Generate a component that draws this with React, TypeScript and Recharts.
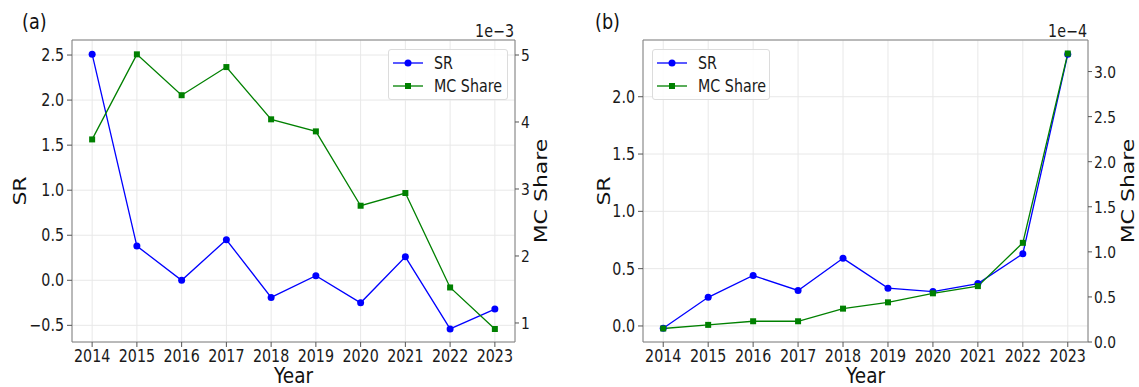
import React from "react"
import { CartesianGrid, Label, Line, LineChart, ReferenceLine, XAxis, YAxis } from "recharts"

// values
const years = [2014, 2015, 2016, 2017, 2018, 2019, 2020, 2021, 2022, 2023]

const srA = [2.51, 0.38, 0.0, 0.45, -0.19, 0.05, -0.25, 0.26, -0.54, -0.32]
const mcShareA = [3.74e-3, 5.01e-3, 4.4e-3, 4.82e-3, 4.04e-3, 3.86e-3, 2.75e-3, 2.94e-3, 1.53e-3, 0.91e-3]

const srB = [-0.02, 0.25, 0.44, 0.31, 0.59, 0.33, 0.3, 0.37, 0.63, 2.37]
const mcShareB = [0.15e-4, 0.19e-4, 0.23e-4, 0.23e-4, 0.37e-4, 0.44e-4, 0.54e-4, 0.62e-4, 1.1e-4, 3.2e-4]

const srTicksA = [-0.5, 0, 0.5, 1, 1.5, 2, 2.5]
const mcTicksA = [1e-3, 2e-3, 3e-3, 4e-3, 5e-3]
const srTicksB = [0, 0.5, 1, 1.5, 2]
const mcTicksB = [0, 0.5e-4, 1e-4, 1.5e-4, 2e-4, 2.5e-4, 3e-4]

const FONT = "'DejaVu Sans', sans-serif"
const BLUE = "#0000ff"
const GREEN = "#008000"
const FRAME = "#808080"
const INK = "#1a1a1a"
// the reference figure is squeezed sideways, so text is drawn narrower than tall
const SQ = 0.84

const minus = (s: string) => s.replace("-", "\u2212")

const SquareDot = (props: any) => {
  const { cx, cy, index } = props
  if (cx == null || cy == null) return <g key={index} />
  return <rect key={index} x={cx - 3} y={cy - 3} width={6} height={6} fill={GREEN} />
}

function makeTick(fmt: (v: number) => string, anchor: "start" | "middle" | "end", dy: string, size = 17) {
  return (props: any) => {
    const { x, y, payload } = props
    return (
      <text
        transform={`translate(${x},${y}) scale(${SQ},1)`}
        textAnchor={anchor}
        dy={dy}
        fontSize={size}
        fill={INK}
        fontFamily={FONT}
      >
        {fmt(payload.value)}
      </text>
    )
  }
}

function VLabel({ x, y, text }: { x: number; y: number; text: string }) {
  return (
    <text
      transform={`translate(${x},${y}) rotate(-90) scale(1,${SQ})`}
      textAnchor="middle"
      dy="0.36em"
      fontSize={22}
      fill="#111"
      fontFamily={FONT}
    >
      {text}
    </text>
  )
}

type PanelProps = {
  tag: string
  sr: number[]
  mc: number[]
  srDomain: [number, number]
  mcDomain: [number, number]
  srTicks: number[]
  mcTicks: number[]
  mcScale: number
  mcDigits: number
  offsetText: string
  margin: { top: number; left: number; right: number; bottom: number }
  width: number
  srLabelX: number
  mcLabelX: number
  legendLeft: number
  legendWidth: number
  tagLeft: number
}

function Panel(p: PanelProps) {
  const data = years.map((y, i) => ({ year: y, sr: p.sr[i], mc: p.mc[i] }))
  const plotRight = p.width - p.margin.right - 40
  const plotMidY = (40 + 342) / 2

  return (
    <div style={{ position: "relative", width: p.width, height: 387 }}>
      <LineChart width={p.width} height={387} data={data} margin={p.margin} style={{ fontFamily: FONT }}>
        <CartesianGrid yAxisId="left" stroke="#e8e8e8" strokeWidth={1} />
        <XAxis
          dataKey="year"
          type="number"
          domain={[2013.55, 2023.45]}
          ticks={years}
          interval={0}
          allowDataOverflow
          height={45}
          tick={makeTick((v) => String(v), "middle", "0.71em")}
          tickSize={5}
          tickMargin={3}
          stroke={FRAME}
          tickLine={{ stroke: "#555" }}
        >
          <Label
            content={(lp: any) => {
              const vb = lp.viewBox
              return (
                <text
                  transform={`translate(${vb.x + vb.width / 2},${vb.y + 41}) scale(${SQ},1)`}
                  textAnchor="middle"
                  fontSize={22}
                  fill="#111"
                  fontFamily={FONT}
                >
                  Year
                </text>
              )
            }}
          />
        </XAxis>
        <YAxis
          yAxisId="left"
          width={50}
          domain={p.srDomain}
          ticks={p.srTicks}
          interval={0}
          allowDataOverflow
          tick={makeTick((v) => minus(v.toFixed(1)), "end", "0.36em")}
          tickSize={5}
          tickMargin={3}
          stroke={FRAME}
          tickLine={{ stroke: "#555" }}
        >
          <Label content={() => <VLabel x={p.srLabelX} y={plotMidY} text="SR" />} />
        </YAxis>
        <YAxis
          yAxisId="right"
          orientation="right"
          width={40}
          domain={p.mcDomain}
          ticks={p.mcTicks}
          interval={0}
          allowDataOverflow
          tick={makeTick((v) => (v * p.mcScale).toFixed(p.mcDigits), "start", "0.36em", 16.5)}
          tickSize={4}
          tickMargin={2}
          stroke={FRAME}
          tickLine={{ stroke: "#555" }}
        >
          <Label content={() => <VLabel x={p.mcLabelX} y={plotMidY} text="MC Share" />} />
        </YAxis>
        <ReferenceLine yAxisId="left" y={p.srDomain[1]} stroke={FRAME} strokeWidth={1} />
        <Line
          yAxisId="left"
          dataKey="sr"
          type="linear"
          stroke={BLUE}
          strokeWidth={1.3}
          dot={{ r: 3.5, fill: BLUE, stroke: BLUE, strokeWidth: 0 }}
          isAnimationActive={false}
        />
        <Line
          yAxisId="right"
          dataKey="mc"
          type="linear"
          stroke={GREEN}
          strokeWidth={1.3}
          dot={SquareDot}
          isAnimationActive={false}
        />
      </LineChart>

      {/* offset text of the right axis and the panel tag */}
      <svg width={p.width} height={60} style={{ position: "absolute", left: 0, top: 0, pointerEvents: "none" }}>
        <text
          transform={`translate(${plotRight - 1},37) scale(${SQ},1)`}
          textAnchor="end"
          fontSize={17}
          fill={INK}
          fontFamily={FONT}
        >
          {p.offsetText}
        </text>
        <text transform={`translate(${p.tagLeft},29) scale(${SQ},1)`} fontSize={21} fill="#111" fontFamily={FONT}>
          {p.tag}
        </text>
      </svg>

      {/* legend */}
      <div
        style={{
          position: "absolute",
          left: p.legendLeft,
          top: 49,
          width: p.legendWidth,
          height: 51,
          boxSizing: "border-box",
          border: "1px solid #dcdcdc",
          borderRadius: 3,
          background: "rgba(255,255,255,0.85)",
          fontFamily: FONT,
          fontSize: 17,
          color: INK,
        }}
      >
        {[
          { name: "SR", color: BLUE, square: false, top: 13 },
          { name: "MC Share", color: GREEN, square: true, top: 36 },
        ].map((it) => (
          <div key={it.name} style={{ position: "absolute", left: 4, top: it.top - 10, height: 20, display: "flex", alignItems: "center" }}>
            <svg width={31} height={20}>
              <line x1={0} y1={10} x2={30} y2={10} stroke={it.color} strokeWidth={1.3} />
              {it.square ? (
                <rect x={12} y={7} width={6} height={6} fill={it.color} />
              ) : (
                <circle cx={15} cy={10} r={3.5} fill={it.color} />
              )}
            </svg>
            <span
              style={{
                marginLeft: 10,
                whiteSpace: "nowrap",
                display: "inline-block",
                transform: `scaleX(${SQ})`,
                transformOrigin: "left center",
              }}
            >
              {it.name}
            </span>
          </div>
        ))}
      </div>
    </div>
  )
}

export default function App() {
  return (
    <div style={{ position: "absolute", left: 0, top: 0, width: 1139, height: 387, background: "#fff", display: "flex" }}>
      <Panel
        tag="(a)"
        sr={srA}
        mc={mcShareA}
        srDomain={[-0.685, 2.667]}
        mcDomain={[0.716e-3, 5.224e-3]}
        srTicks={srTicksA}
        mcTicks={mcTicksA}
        mcScale={1e3}
        mcDigits={0}
        offsetText={"1e\u22123"}
        margin={{ top: 40, left: 22, right: 15, bottom: 0 }}
        width={570}
        srLabelX={19}
        mcLabelX={540}
        legendLeft={388}
        legendWidth={120}
        tagLeft={22}
      />
      <Panel
        tag="(b)"
        sr={srB}
        mc={mcShareB}
        srDomain={[-0.14, 2.495]}
        mcDomain={[0, 3.35e-4]}
        srTicks={srTicksB}
        mcTicks={mcTicksB}
        mcScale={1e4}
        mcDigits={1}
        offsetText={"1e\u22124"}
        margin={{ top: 40, left: 23, right: 11, bottom: 0 }}
        width={569}
        srLabelX={33}
        mcLabelX={557}
        legendLeft={82}
        legendWidth={118}
        tagLeft={25}
      />
    </div>
  )
}
